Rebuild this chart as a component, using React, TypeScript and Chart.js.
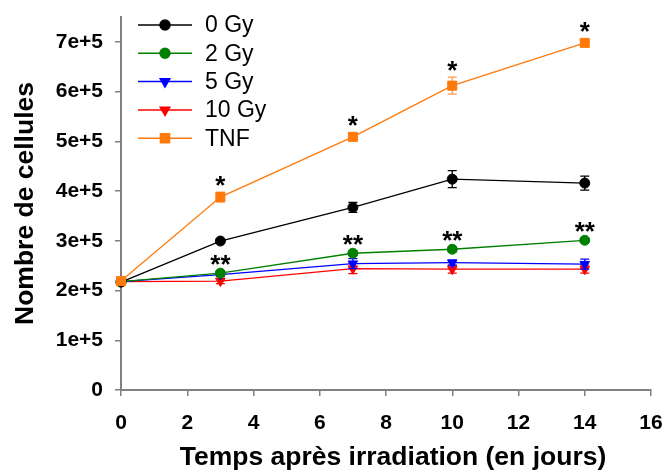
import React, { useEffect, useRef } from 'react';
import { Chart, registerables } from 'chart.js';
import { drawPoint } from 'chart.js/helpers';

Chart.register(...registerables);

// ---- data ----
const days = [0, 3, 7, 10, 14];
const seriesNames = ['0 Gy', '2 Gy', '5 Gy', '10 Gy', 'TNF'];
const gy0 = [217000, 299500, 367000, 424000, 416000];
const gy0Err = [4000, 4000, 10000, 17000, 14000];
const gy2 = [218000, 235000, 275000, 283000, 301000];
const gy2Err = [4000, 4000, 5000, 5000, 4000];
const gy5 = [218000, 232000, 254000, 256000, 253000];
const gy5Err = [4000, 4000, 10000, 5000, 10000];
const gy10 = [218000, 219000, 244000, 243000, 243000];
const gy10Err = [4000, 5000, 10000, 8000, 8000];
const tnf = [219000, 388000, 509000, 612000, 698000];
const tnfErr = [7000, 10000, 5000, 17000, 5000];
const gy2Stars = ['', '**', '**', '**', '**'];
const tnfStars = ['', '*', '*', '*', '*'];
const xTickValues = [0, 2, 4, 6, 8, 10, 12, 14, 16];
const yTickLabels = ['0', '1e+5', '2e+5', '3e+5', '4e+5', '5e+5', '6e+5', '7e+5'];
const xTitle = 'Temps après irradiation (en jours)';
const yTitle = 'Nombre de cellules';

const FONT = "'Liberation Sans', Arial, Helvetica, sans-serif";

const styles = [
  { color: '#000000', errColor: '#000000', pointStyle: 'circle', radius: 5, rotation: 0 },
  { color: '#008000', errColor: '#008000', pointStyle: 'circle', radius: 5, rotation: 0 },
  { color: '#0000ff', errColor: '#0000ff', pointStyle: 'triangle', radius: 5.5, rotation: 180 },
  { color: '#ff0000', errColor: '#ff0000', pointStyle: 'triangle', radius: 5.5, rotation: 180 },
  { color: '#ff7a0a', errColor: '#ff9a4a', pointStyle: 'rect', radius: 6.4, rotation: 0 },
];
const seriesValues = [gy0, gy2, gy5, gy10, tnf];
const seriesErrs = [gy0Err, gy2Err, gy5Err, gy10Err, tnfErr];
const seriesStars: (string[] | null)[] = [null, gy2Stars, null, null, tnfStars];
const starOffsets = [0, 11, 0, 0, 17];

const errorBarPlugin = {
  id: 'errorBars',
  beforeDatasetDraw(chart: any, args: any) {
    const i = args.index;
    const meta = args.meta;
    const ys = chart.scales.y;
    const ctx = chart.ctx;
    ctx.save();
    ctx.strokeStyle = styles[i].errColor;
    ctx.lineWidth = 1.3;
    seriesValues[i].forEach((v, j) => {
      const el = meta.data[j];
      if (!el) return;
      const e = seriesErrs[i][j];
      const top = ys.getPixelForValue(v + e);
      const bot = ys.getPixelForValue(v - e);
      const x = el.x;
      ctx.beginPath();
      ctx.moveTo(x, top);
      ctx.lineTo(x, bot);
      ctx.moveTo(x - 4.5, top);
      ctx.lineTo(x + 4.5, top);
      ctx.moveTo(x - 4.5, bot);
      ctx.lineTo(x + 4.5, bot);
      ctx.stroke();
    });
    ctx.restore();
  },
};

const starsPlugin = {
  id: 'stars',
  afterDatasetsDraw(chart: any) {
    const ctx = chart.ctx;
    const ys = chart.scales.y;
    ctx.save();
    ctx.fillStyle = '#000';
    ctx.font = `bold 26px ${FONT}`;
    ctx.textAlign = 'center';
    ctx.textBaseline = 'alphabetic';
    seriesStars.forEach((stars, i) => {
      if (!stars) return;
      const meta = chart.getDatasetMeta(i);
      stars.forEach((s, j) => {
        if (!s) return;
        const el = meta.data[j];
        const errTop = ys.getPixelForValue(seriesValues[i][j] + seriesErrs[i][j]);
        const cy = Math.min(el.y - starOffsets[i], errTop - 12);
        ctx.fillText(s, el.x, cy + 14);
      });
    });
    ctx.restore();
  },
};

const legendPlugin = {
  id: 'customLegend',
  afterDraw(chart: any) {
    const ctx = chart.ctx;
    ctx.save();
    seriesNames.forEach((name, i) => {
      const y = 25 + i * 28.3;
      const st = styles[i];
      ctx.strokeStyle = st.color;
      ctx.lineWidth = 1.5;
      ctx.beginPath();
      ctx.moveTo(138, y);
      ctx.lineTo(192, y);
      ctx.stroke();
      ctx.fillStyle = st.color;
      ctx.strokeStyle = st.color;
      drawPoint(ctx, { pointStyle: st.pointStyle, rotation: st.rotation, radius: st.radius, borderWidth: 1 } as any, 165, y);
      ctx.fillStyle = '#000';
      ctx.font = `23px ${FONT}`;
      ctx.textAlign = 'left';
      ctx.textBaseline = 'middle';
      ctx.fillText(name, 205, y + 1);
    });
    // x axis title
    const area = chart.chartArea;
    ctx.fillStyle = '#000';
    ctx.font = `bold 26.5px ${FONT}`;
    ctx.textAlign = 'center';
    ctx.textBaseline = 'middle';
    ctx.fillText(xTitle, (area.left + area.right) / 2 + 7, 457.5);
    ctx.restore();
  },
};

export default function App() {
  const ref = useRef<HTMLCanvasElement | null>(null);
  useEffect(() => {
    document.body.style.margin = '0';
    const canvas = ref.current!;
    const order = [1, 1, 1, 1, 0];
    const chart = new Chart(canvas, {
      type: 'line',
      data: {
        datasets: seriesNames.map((name, i) => ({
          label: name,
          data: days.map((d, j) => ({ x: d, y: seriesValues[i][j] })),
          borderColor: styles[i].color,
          backgroundColor: styles[i].color,
          borderWidth: 1.3,
          pointStyle: styles[i].pointStyle as any,
          pointRotation: styles[i].rotation,
          pointRadius: styles[i].radius,
          pointBackgroundColor: styles[i].color,
          pointBorderColor: styles[i].color,
          pointBorderWidth: 1,
          tension: 0,
          fill: false,
          order: order[i],
          clip: false as any,
        })),
      },
      options: {
        responsive: false,
        animation: false,
        devicePixelRatio: 1,
        layout: { padding: { top: 17, right: 16, left: 0, bottom: 0 } },
        plugins: {
          legend: { display: false },
          tooltip: { enabled: false },
        },
        scales: {
          x: {
            type: 'linear',
            min: 0,
            max: 16,
            afterFit: (s: any) => { s.height = 81; s.paddingLeft = 0; s.paddingRight = 0; },
            afterBuildTicks: (s: any) => { s.ticks = xTickValues.map((v) => ({ value: v })); },
            grid: { drawOnChartArea: false, drawTicks: true, tickLength: 6, color: '#808080', lineWidth: 1.5 },
            border: { display: true, color: '#808080', width: 2 },
            ticks: {
              color: '#000',
              font: { family: FONT, size: 21, weight: 'bold' },
              padding: 15,
              maxRotation: 0,
              autoSkip: false,
              callback: (v: any) => String(v),
            },
            title: { display: false, text: xTitle },
          },
          y: {
            type: 'linear',
            min: 0,
            max: 750000,
            afterFit: (s: any) => { s.width = 121; s.paddingTop = 0; s.paddingBottom = 0; },
            afterBuildTicks: (s: any) => { s.ticks = yTickLabels.map((_, k) => ({ value: k * 100000 })); },
            grid: { drawOnChartArea: false, drawTicks: true, tickLength: 6, color: '#808080', lineWidth: 1.5 },
            border: { display: true, color: '#808080', width: 2 },
            ticks: {
              color: '#000',
              font: { family: FONT, size: 21, weight: 'bold' },
              padding: 12,
              autoSkip: false,
              callback: (v: any) => yTickLabels[Math.round(Number(v) / 100000)] ?? '',
            },
            title: {
              display: true,
              text: yTitle,
              color: '#000',
              font: { family: FONT, size: 26.5, weight: 'bold' },
              padding: { top: 10, bottom: 0 },
            },
          },
        },
      },
      plugins: [errorBarPlugin, starsPlugin, legendPlugin],
    });
    return () => chart.destroy();
  }, []);
  return (
    <div style={{ width: 667, height: 471, position: 'relative' }}>
      <canvas ref={ref} width={667} height={471} />
    </div>
  );
}
